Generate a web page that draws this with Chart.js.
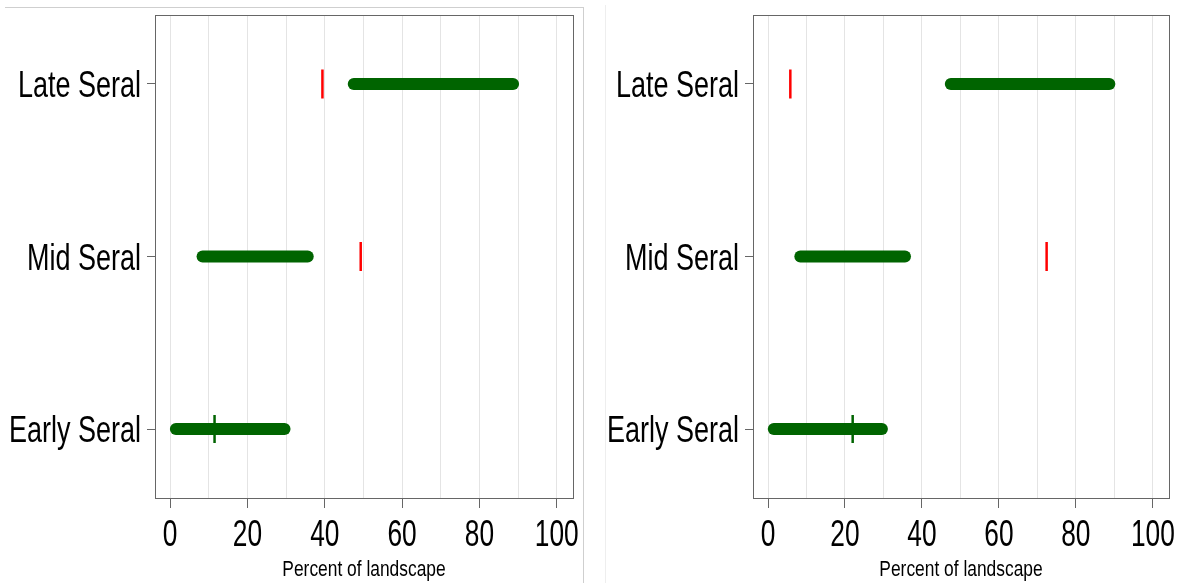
<!DOCTYPE html>
<html>
<head>
<meta charset="utf-8">
<script src="https://cdn.jsdelivr.net/npm/chart.js@4.4.0/dist/chart.umd.min.js"></script>
<style>
  html, body { margin: 0; padding: 0; background: #fff; }
  body { width: 1181px; height: 583px; position: relative; overflow: hidden; }
  .frameLeft { position: absolute; left: 5px; top: 7px; width: 579px; height: 590px;
    border-top: 1px solid #cfcfcf; border-right: 1px solid #cfcfcf; box-sizing: border-box; }
  .frameRight { position: absolute; left: 605px; top: 5px; width: 1px; height: 590px; background: #eeeeee; }
  #leftChart { position: absolute; left: 0; top: 0; }
  #rightChart { position: absolute; left: 598px; top: 0; }
</style>
</head>
<body>
<div class="frameLeft"></div>
<div class="frameRight"></div>
<canvas id="leftChart" width="583" height="583"></canvas>
<canvas id="rightChart" width="583" height="583"></canvas>
<script>
// categories, bottom to top
const categories = ['Early Seral', 'Mid Seral', 'Late Seral'];
const xTicks = [0, 20, 40, 60, 80, 100];
const xTitle = 'Percent of landscape';

// green range (percent of landscape), same in both panels
const rangeLow = [1.5, 8.4, 47.5];
const rangeHigh = [29.6, 35.6, 88.7];

// left panel markers
const leftRed = [null, 49.3, 39.4];
const leftGreen = [11.5, null, null];

// right panel markers
const rightRed = [null, 72.4, 5.8];
const rightGreen = [22.0, null, null];

const FONT = "'Liberation Sans', Arial, sans-serif";
const GREEN = '#006400';
const RED = '#ff0000';

// plot region frame (top and right edges)
const framePlugin = {
  id: 'frame',
  afterDraw(chart) {
    const { ctx, chartArea } = chart;
    ctx.save();
    ctx.strokeStyle = '#666';
    ctx.lineWidth = 1;
    ctx.strokeRect(Math.round(chartArea.left) + 0.5, Math.round(chartArea.top) + 0.5,
      Math.round(chartArea.right - chartArea.left), Math.round(chartArea.bottom - chartArea.top));
    ctx.restore();
  }
};

// the original uses a very condensed font, so labels are drawn squeezed
function squeezed(ctx, text, px, py, sx) {
  ctx.save();
  ctx.translate(px, py);
  ctx.scale(sx, 1);
  ctx.fillText(text, 0, 0);
  ctx.restore();
}

const labelPlugin = {
  id: 'labels',
  afterDraw(chart) {
    const { ctx, chartArea } = chart;
    const x = chart.scales.x, y = chart.scales.y;
    ctx.save();
    ctx.fillStyle = '#000';
    ctx.textBaseline = 'alphabetic';
    ctx.font = '36px ' + FONT;
    ctx.textAlign = 'center';
    xTicks.forEach(v => squeezed(ctx, String(v), x.getPixelForValue(v), 546, 0.73));
    ctx.textAlign = 'right';
    categories.forEach((c, i) => squeezed(ctx, c, chartArea.left - 14, y.getPixelForValue(i + 1) + 13, 0.75));
    ctx.font = '22px ' + FONT;
    ctx.textAlign = 'center';
    squeezed(ctx, xTitle, (chartArea.left + chartArea.right) / 2, 576, 0.79);
    ctx.restore();
  }
};

function markerData(values) {
  const pts = [];
  values.forEach((v, i) => { if (v !== null) pts.push({ x: v, y: i + 1 }); });
  return pts;
}

function makeChart(id, redVals, greenVals, rightPad) {
  const datasets = [];
  for (let i = 0; i < categories.length; i++) {
    datasets.push({
      data: [{ x: rangeLow[i], y: i + 1 }, { x: rangeHigh[i], y: i + 1 }],
      showLine: true,
      borderColor: GREEN,
      borderWidth: 12,
      borderCapStyle: 'round',
      pointRadius: 0,
      pointHoverRadius: 0,
    });
  }
  datasets.push({
    data: markerData(redVals),
    pointStyle: 'line',
    pointRotation: 90,
    pointRadius: 14.5,
    pointHoverRadius: 14.5,
    pointBorderWidth: 2.5,
    pointBorderColor: RED,
    borderColor: RED,
  });
  datasets.push({
    data: markerData(greenVals),
    pointStyle: 'line',
    pointRotation: 90,
    pointRadius: 14,
    pointHoverRadius: 14,
    pointBorderWidth: 2.5,
    pointBorderColor: GREEN,
    borderColor: GREEN,
  });

  return new Chart(document.getElementById(id), {
    type: 'scatter',
    data: { datasets },
    options: {
      responsive: false,
      animation: false,
      layout: { autoPadding: false, padding: { top: 15, right: rightPad, left: 0, bottom: 0 } },
      plugins: { legend: { display: false }, tooltip: { enabled: false } },
      scales: {
        x: {
          type: 'linear',
          min: -3.9,
          max: 104.2,
          afterBuildTicks: (scale) => {
            const t = [];
            for (let v = 0; v <= 100; v += 10) t.push({ value: v });
            scale.ticks = t;
          },
          afterFit: (scale) => { scale.height = 85; },
          border: { color: '#666', width: 1 },
          grid: {
            color: '#e4e4e4',
            lineWidth: 1,
            tickLength: 10,
            tickColor: (ctx) => (ctx.tick && xTicks.includes(ctx.tick.value) ? '#666' : 'rgba(0,0,0,0)'),
          },
          ticks: { display: false },
        },
        y: {
          type: 'linear',
          min: 0.6,
          max: 3.4,
          afterBuildTicks: (scale) => {
            scale.ticks = categories.map((c, i) => ({ value: i + 1 }));
          },
          afterFit: (scale) => { scale.width = 155; },
          border: { color: '#666', width: 1 },
          grid: { drawOnChartArea: false, tickLength: 8, tickColor: '#666' },
          ticks: { display: false },
        },
      },
    },
    plugins: [framePlugin, labelPlugin],
  });
}

makeChart('leftChart', leftRed, leftGreen, 10);
makeChart('rightChart', rightRed, rightGreen, 12);
</script>
</body>
</html>
